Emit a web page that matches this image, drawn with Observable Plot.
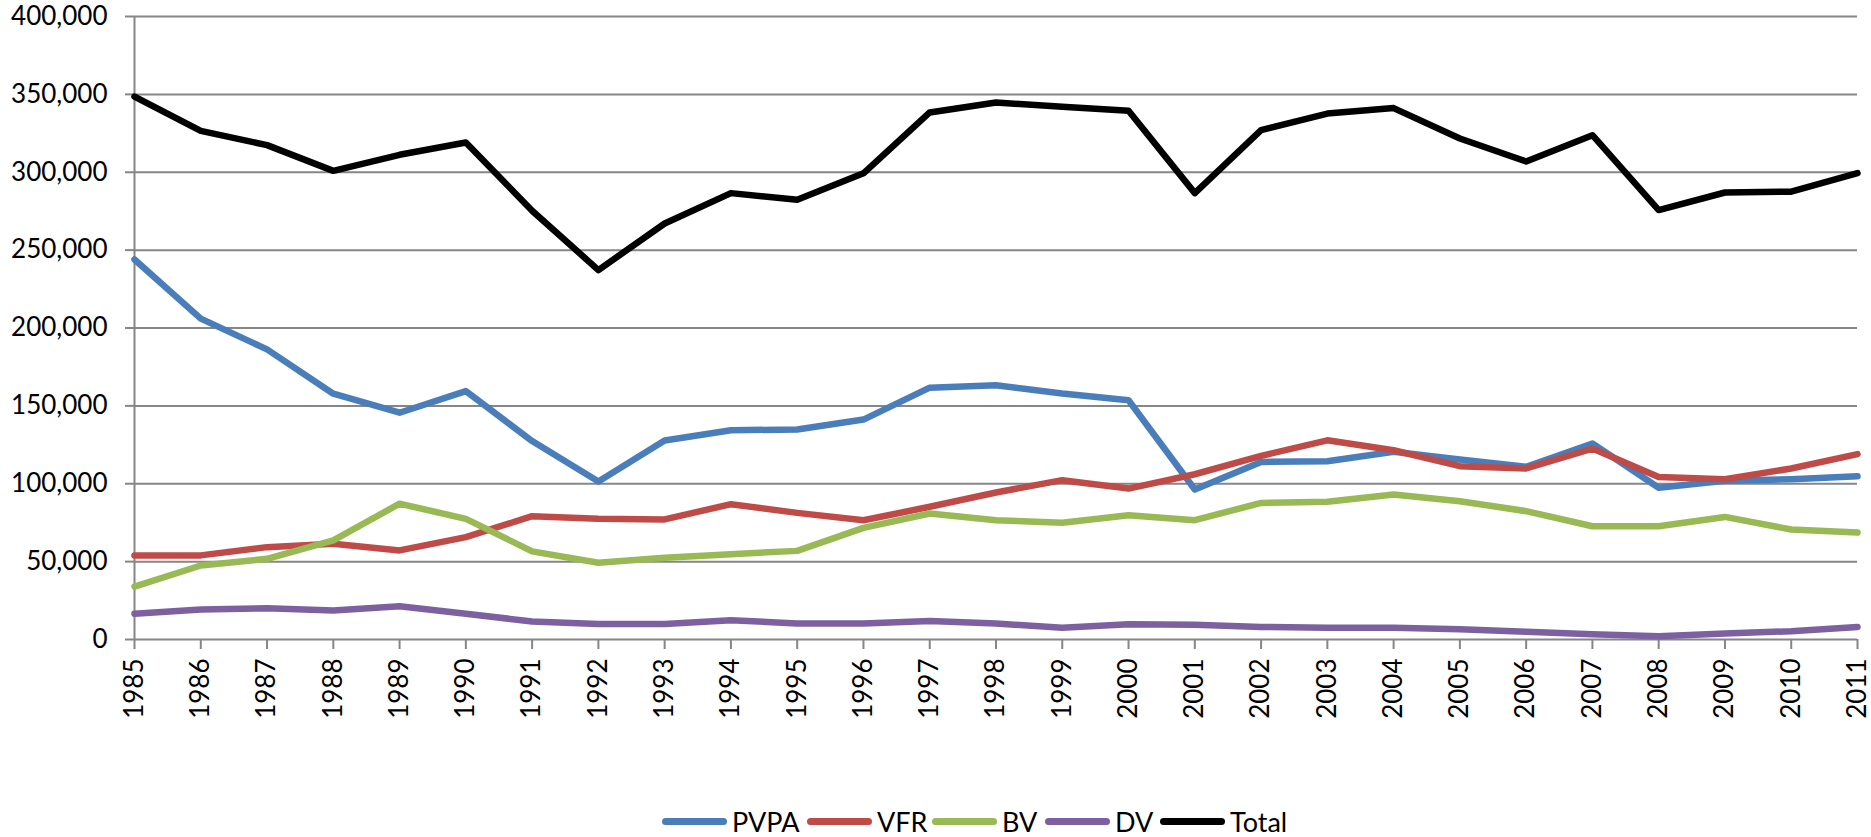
<!DOCTYPE html>
<html>
<head>
<meta charset="utf-8">
<script src="https://cdn.jsdelivr.net/npm/d3@7"></script>
<script src="https://cdn.jsdelivr.net/npm/@observablehq/plot@0.6"></script>
<style>
  html, body { margin: 0; padding: 0; background: #fff; }
  #chart { width: 1871px; height: 760px; }
  #chart svg { display: block; }
  .legend { position: relative; height: 77px; font-family: Lato, sans-serif; font-size: 27px; color: #000; overflow: hidden; }
  .legend .item { position: absolute; top: 0; height: 77px; display: flex; align-items: center; }
  .legend .swatch { width: 65px; height: 7px; border-radius: 4px; margin-right: 5px; margin-top: 45px; }
  .legend .lbl { margin-top: 45px; line-height: 1; }
</style>
</head>
<body>
<div id="chart"></div>
<script>
const years = [1985, 1986, 1987, 1988, 1989, 1990, 1991, 1992, 1993, 1994, 1995, 1996, 1997, 1998, 1999, 2000, 2001, 2002, 2003, 2004, 2005, 2006, 2007, 2008, 2009, 2010, 2011];
const seriesNames = ["PVPA", "VFR", "BV", "DV", "Total"];
const seriesColors = ["#4a7ebb", "#be4b48", "#98b954", "#7d60a0", "#000000"];
const pvpa = [244000, 206000, 186300, 157800, 145600, 159500, 127400, 101500, 127800, 134400, 134800, 141200, 161700, 163200, 157900, 153600, 96300, 114000, 114500, 120500, 115600, 110900, 125800, 97400, 101900, 102900, 104800];
const vfr = [54000, 54000, 59300, 61500, 57200, 65700, 79200, 77500, 77100, 86900, 81300, 76600, 85200, 94400, 102300, 96900, 106100, 117900, 127900, 121500, 111300, 109800, 122600, 104400, 102900, 109800, 119000];
const bv = [34000, 47500, 51800, 63600, 87200, 77500, 56600, 49300, 52500, 54800, 56900, 71700, 80900, 76600, 74900, 79800, 76600, 87700, 88400, 93100, 88800, 82400, 72700, 72700, 78700, 70600, 68700];
const dv = [16500, 19300, 20100, 18600, 21400, 16500, 11600, 10000, 10000, 12400, 10300, 10300, 11800, 10300, 7500, 9800, 9400, 8100, 7500, 7500, 6600, 4900, 3400, 2100, 3900, 5300, 8100];
const total = [348600, 326600, 317400, 300900, 311200, 319100, 275300, 237200, 267100, 286600, 282300, 299300, 338400, 344800, 342000, 339500, 286600, 327000, 337700, 341200, 321700, 306900, 323800, 275700, 287000, 287500, 299400];
const yTicks = [0, 50000, 100000, 150000, 200000, 250000, 300000, 350000, 400000];

const seriesValues = [pvpa, vfr, bv, dv, total];
const table = [];
seriesNames.forEach((name, i) => {
  years.forEach((yr, j) => table.push({series: name, year: yr, value: seriesValues[i][j]}));
});

const axisColor = "#868686";
const chart = Plot.plot({
  width: 1871,
  height: 760,
  marginLeft: 134,
  marginRight: 14,
  marginTop: 16,
  marginBottom: 121,
  style: {fontFamily: "Lato, sans-serif", fontSize: "26px", color: "#000", background: "#fff"},
  x: {domain: [1985, 2011]},
  y: {domain: [0, 400000]},
  color: {domain: seriesNames, range: seriesColors},
  marks: [
    Plot.gridY(yTicks, {stroke: axisColor, strokeOpacity: 1, strokeWidth: 2}),
    Plot.ruleX([1985], {stroke: axisColor, strokeWidth: 2}),
    Plot.axisY(yTicks, {tickSize: 9, tickPadding: 18, tickFormat: d3.format(","), stroke: axisColor, strokeWidth: 2, fill: "#000", label: null}),
    Plot.axisX(years, {tickSize: 10, tickPadding: 9, tickRotate: -90, tickFormat: d => String(d), stroke: axisColor, strokeWidth: 2, fill: "#000", label: null}),
    Plot.lineY(table, {x: "year", y: "value", z: "series", stroke: "series", strokeWidth: 6.5, strokeLinejoin: "round", strokeLinecap: "round"})
  ]
});
document.getElementById("chart").appendChild(chart);

// legend below the SVG
const legend = document.createElement("div");
legend.className = "legend";
const lefts = [662, 807, 932, 1045, 1160];
seriesNames.forEach((name, i) => {
  const item = document.createElement("div");
  item.className = "item";
  item.style.left = lefts[i] + "px";
  const sw = document.createElement("div");
  sw.className = "swatch";
  sw.style.background = seriesColors[i];
  const lb = document.createElement("span");
  lb.className = "lbl";
  lb.textContent = name;
  item.appendChild(sw);
  item.appendChild(lb);
  legend.appendChild(item);
});
document.body.appendChild(legend);
</script>
</body>
</html>
